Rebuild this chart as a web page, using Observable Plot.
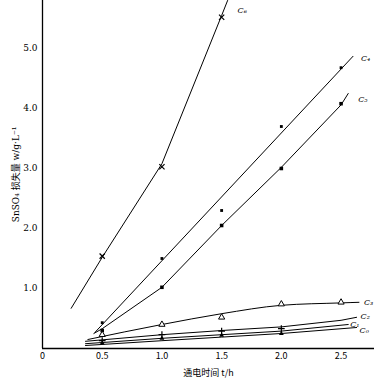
<!DOCTYPE html>
<html><head><meta charset="utf-8">
<script src="https://cdn.jsdelivr.net/npm/d3@7"></script>
<script src="https://cdn.jsdelivr.net/npm/@observablehq/plot@0.6"></script>
<style>body{margin:0;background:#fff}</style>
</head><body><div id="chart"></div>
<script>
// tick values
const xTicks = [0, 0.5, 1.0, 1.5, 2.0, 2.5];
const yTicks = [1, 2, 3, 4, 5];
// series names
const names = ["C₆", "C₄", "C₅", "C₃", "C₂", "C₁", "C₀"];
// curve points (t/h, w)
const c6LineT = [0.24, 0.5, 1.0, 1.5, 1.55];
const c6LineV = [0.67, 1.52, 3.08, 5.55, 5.80];
const c4LineT = [0.44, 2.6];
const c4LineV = [0.27, 4.87];
const c5LineT = [0.43, 0.5, 1.0, 1.5, 2.0, 2.5, 2.56];
const c5LineV = [0.25, 0.33, 1.02, 2.05, 3.02, 4.06, 4.25];
const c3LineT = [0.38, 1.0, 1.5, 2.0, 2.5, 2.65];
const c3LineV = [0.15, 0.40, 0.58, 0.72, 0.76, 0.77];
const c2LineT = [0.36, 1.0, 1.5, 2.0, 2.5, 2.63];
const c2LineV = [0.12, 0.23, 0.30, 0.36, 0.47, 0.52];
const c1LineT = [0.36, 1.0, 1.5, 2.0, 2.56];
const c1LineV = [0.08, 0.17, 0.23, 0.29, 0.40];
const c0LineT = [0.36, 1.0, 1.5, 2.0, 2.63];
const c0LineV = [0.05, 0.13, 0.19, 0.25, 0.35];
// measured points
const c6PtT = [0.5, 1.0, 1.5];
const c6PtV = [1.54, 3.03, 5.52];
const c4PtT = [0.5, 1.0, 1.5, 2.0, 2.5];
const c4PtV = [0.43, 1.50, 2.30, 3.70, 4.68];
const c5PtT = [0.5, 1.0, 1.5, 2.0, 2.5];
const c5PtV = [0.30, 1.02, 2.05, 3.00, 4.08];
const c3PtT = [0.5, 1.0, 1.5, 2.0, 2.5];
const c3PtV = [0.23, 0.40, 0.52, 0.74, 0.77];
const c2PtT = [0.5, 1.0, 1.5, 2.0];
const c2PtV = [0.13, 0.23, 0.29, 0.33];
const c1PtT = [0.5, 1.0, 1.5, 2.0];
const c1PtV = [0.09, 0.17, 0.22, 0.25];

const zip = (T, V, s) => T.map((t, i) => ({t, v: V[i], s}));
const lines = [
  zip(c6LineT, c6LineV, names[0]), zip(c4LineT, c4LineV, names[1]), zip(c5LineT, c5LineV, names[2]),
  zip(c3LineT, c3LineV, names[3]), zip(c2LineT, c2LineV, names[4]), zip(c1LineT, c1LineV, names[5]),
  zip(c0LineT, c0LineV, names[6])
];
const curved = lines.filter(l => ["C₃"].includes(l[0].s)).flat();
const straight = lines.filter(l => !["C₃"].includes(l[0].s)).flat();
const ends = lines.map(l => l[l.length - 1]);
const labelOff = {"C₆": [10, 10], "C₄": [8, 2], "C₅": [10, 6], "C₃": [5, 0], "C₂": [4, -1], "C₁": [2, 0], "C₀": [3, 3]};

const serif = "'DejaVu Serif', 'Liberation Serif', 'Noto Sans CJK SC', serif";
const chart = Plot.plot({
  width: 374, height: 378,
  marginLeft: 42, marginRight: 0, marginTop: 0, marginBottom: 30,
  x: {domain: [0, 2.78]},
  y: {domain: [0, 5.8]},
  style: {fontFamily: serif, fontSize: "9px", background: "white", color: "black", overflow: "visible"},
  marks: [
    Plot.axisX({ticks: xTicks, tickSize: 0, tickPadding: 4, tickFormat: d => d === 0 ? "0" : d.toFixed(1),
      label: "通电时间 t/h", labelAnchor: "center", labelOffset: 27, labelArrow: "none",
      fontFamily: "'Noto Sans CJK SC', sans-serif"}),
    Plot.axisY({ticks: yTicks, tickSize: 0, tickPadding: 5, tickFormat: d => d.toFixed(1),
      label: "SnSO₄ 损失量 w/g·L⁻¹", labelAnchor: "center", labelOffset: 30, labelArrow: "none"}),
    Plot.ruleX([0], {stroke: "black", strokeWidth: 1.3}),
    Plot.ruleY([0], {stroke: "black", strokeWidth: 1.3}),
    Plot.line(curved, {x: "t", y: "v", z: "s", stroke: "black", strokeWidth: 1, curve: "monotone-x"}),
    Plot.line(straight, {x: "t", y: "v", z: "s", stroke: "black", strokeWidth: 1}),
    Plot.dot(zip(c6PtT, c6PtV, "C₆"), {x: "t", y: "v", symbol: "times", r: 2.5, stroke: "black", strokeWidth: 1.2}),
    Plot.dot(zip(c4PtT, c4PtV, "C₄"), {x: "t", y: "v", symbol: "square", r: 1.6, fill: "black"}),
    Plot.dot(zip(c5PtT, c5PtV, "C₅"), {x: "t", y: "v", symbol: "square", r: 2, fill: "black"}),
    Plot.dot(zip(c3PtT, c3PtV, "C₃"), {x: "t", y: "v", symbol: "triangle", r: 2.3, stroke: "black", fill: "white", strokeWidth: 1}),
    Plot.dot(zip(c2PtT, c2PtV, "C₂"), {x: "t", y: "v", symbol: "plus", r: 2.3, stroke: "black", strokeWidth: 1.2}),
    Plot.dot(zip(c1PtT, c1PtV, "C₁"), {x: "t", y: "v", symbol: "triangle", r: 1.8, fill: "black"}),
    ...ends.map(e => Plot.text([e], {x: "t", y: "v", text: "s", textAnchor: "start",
      dx: labelOff[e.s][0], dy: labelOff[e.s][1], fontStyle: "italic", fontSize: 8}))
  ]
});
document.getElementById("chart").append(chart);
</script>
</body></html>
